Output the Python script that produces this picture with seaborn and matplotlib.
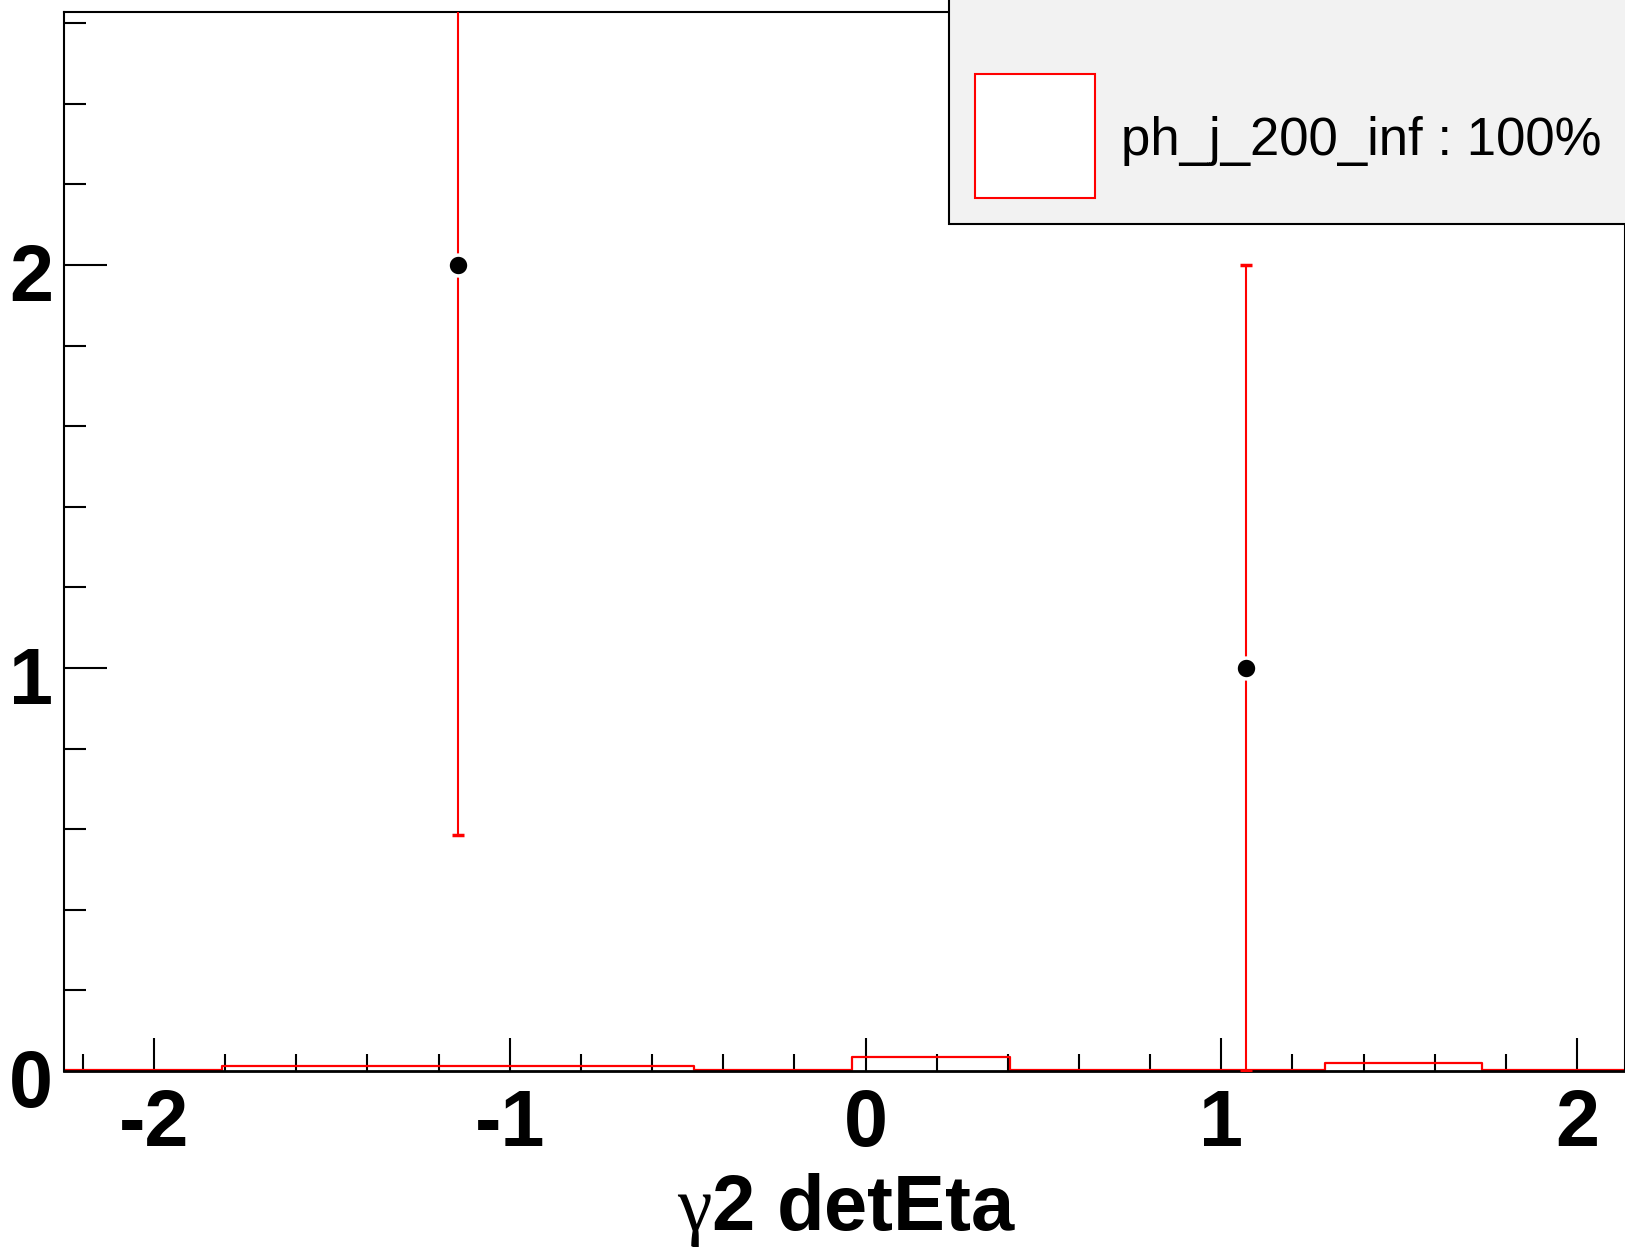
import numpy as np
import pandas as pd
import matplotlib
matplotlib.use('Agg')
import matplotlib.pyplot as plt
import matplotlib.transforms as mtransforms
import seaborn as sns
from matplotlib.patches import Rectangle
from matplotlib.ticker import MultipleLocator

# histogram of the ph_j_200_inf sample (10 bins)
bin_edges = [-2.253, -1.810, -1.367, -0.924, -0.481, -0.038, 0.405, 0.848, 1.291, 1.734, 2.177]
mc_values = [0.003, 0.012, 0.012, 0.012, 0.003, 0.035, 0.003, 0.003, 0.020, 0.003]

# data points with errors
data_x = [-1.146, 1.070]
data_y = [2, 1]
err_low = [1.414, 1.0]
err_high = [1.414, 1.0]

legend_label = 'ph_j_200_inf : 100%'
x_title = r'$\mathrm{\gamma}$2 detEta'

sns.set_style('ticks')
plt.rcParams['font.family'] = ['Liberation Sans', 'DejaVu Sans']
plt.rcParams['axes.unicode_minus'] = False
plt.rcParams['text.color'] = 'black'
plt.rcParams['xtick.color'] = 'black'
plt.rcParams['ytick.color'] = 'black'
plt.rcParams['mathtext.fontset'] = 'custom'
plt.rcParams['mathtext.rm'] = 'Liberation Serif'

fig = plt.figure(figsize=(16.25, 12.51), dpi=100)
ax = fig.add_axes([0.0394, 0.1439, 0.9606, 0.8465])

edges = np.array(bin_edges)
mc = pd.DataFrame({'center': (edges[:-1] + edges[1:]) / 2, 'value': mc_values})
sns.histplot(data=mc, x='center', weights='value', bins=bin_edges, element='step',
             fill=False, color='red', linewidth=1.6, ax=ax)

ax.errorbar(data_x, data_y, yerr=[err_low, err_high], fmt='o', color='black',
            ecolor='red', elinewidth=1.5, capsize=4, capthick=1.5,
            markersize=15, markeredgecolor='white', markeredgewidth=2.5, zorder=5)

ax.set_xlim(-2.253, 2.135)
ax.set_ylim(0, 2.628)

ax.xaxis.set_major_locator(MultipleLocator(1))
ax.xaxis.set_minor_locator(MultipleLocator(0.2))
ax.yaxis.set_major_locator(MultipleLocator(1))
ax.yaxis.set_minor_locator(MultipleLocator(0.2))

ax.tick_params(which='both', bottom=True, left=True, top=False, right=False,
               colors='black')
ax.tick_params(axis='x', which='major', direction='in', length=24, width=1.5,
               pad=12, labelsize=57)
ax.tick_params(axis='x', which='minor', direction='in', length=12, width=1.5)
ax.tick_params(axis='y', which='major', direction='in', length=31, width=1.5,
               pad=8, labelsize=57)
ax.tick_params(axis='y', which='minor', direction='in', length=16, width=1.5)
shift = mtransforms.ScaledTranslation(0, -7 / 100, fig.dpi_scale_trans)
for lab in ax.get_xticklabels():
    lab.set_fontweight('bold')
for lab in ax.get_yticklabels():
    lab.set_fontweight('bold')
    lab.set_transform(lab.get_transform() + shift)

for side in ['left', 'bottom', 'top', 'right']:
    ax.spines[side].set_color('black')
    ax.spines[side].set_linewidth(1.5)
ax.spines['bottom'].set_linewidth(2)

ax.set_ylabel('')
ax.set_xlabel('')
fig.text(0.521, 0.0168, x_title, fontsize=56, fontweight='bold', ha='center',
         va='baseline')

# legend box (top right, cut by the canvas edge)
fig.patches.append(Rectangle((0.584, 0.821), 0.45, 0.2, transform=fig.transFigure,
                             facecolor='#f2f2f2', edgecolor='black', linewidth=1.5,
                             zorder=10))
fig.patches.append(Rectangle((0.600, 0.8417), 0.074, 0.0992, transform=fig.transFigure,
                             facecolor='white', edgecolor='red', linewidth=1.5,
                             zorder=11))
fig.text(0.6898, 0.876, legend_label, fontsize=38, va='baseline', ha='left',
         zorder=12)

fig.savefig('out.png', dpi=100)
